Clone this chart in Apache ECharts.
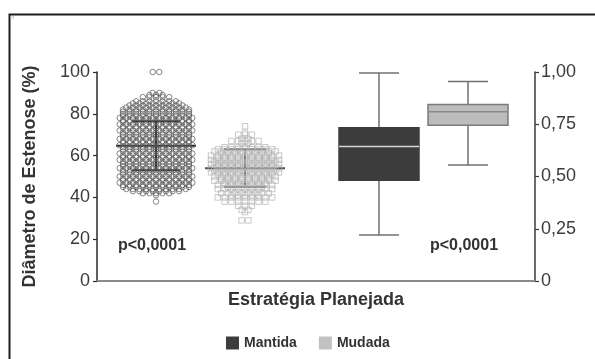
<!DOCTYPE html>
<html><head><meta charset="utf-8">
<script src="https://cdn.jsdelivr.net/npm/echarts@6/dist/echarts.min.js"></script>
<style>html,body{margin:0;padding:0;background:#fff}#c{width:595px;height:359px}</style>
</head><body><div id="c"></div>
<script>
// ---------- data ----------
const groups = ['Mantida', 'Mudada'];
const leftTicks = [0, 20, 40, 60, 80, 100];
const rightTickLabels = ['0', '0,25', '0,50', '0,75', '1,00'];

// Dot plot (left): value levels and number of patients at each level
const mantidaLevels = [100, 90, 89, 88, 86, 85, 84, 83, 82, 81, 80, 79, 78, 77, 76, 75, 74, 73, 72, 71, 70, 69, 68, 67, 66, 65, 64, 63, 62, 61, 60, 59, 58, 57, 56, 55, 54, 53, 52, 51, 50, 49, 48, 47, 46, 45, 44, 43, 42, 41, 38];
const mantidaCounts = [2, 2, 3, 5, 7, 8, 9, 10, 11, 11, 11, 11, 12, 11, 11, 12, 11, 11, 12, 11, 11, 11, 12, 11, 11, 12, 11, 11, 11, 12, 11, 11, 12, 11, 11, 11, 12, 11, 11, 11, 12, 11, 11, 12, 11, 11, 10, 8, 5, 1, 1];
const mudadaLevels = [74, 71, 70, 68, 67, 66, 64, 63, 62, 61, 60, 59, 58, 57, 56, 55, 54, 53, 52, 51, 50, 49, 48, 47, 46, 45, 44, 42, 41, 40, 38, 36, 34, 33, 29];
const mudadaCounts = [1, 1, 3, 2, 5, 2, 7, 9, 10, 8, 11, 9, 11, 10, 11, 9, 11, 10, 11, 9, 10, 8, 10, 7, 9, 6, 9, 8, 5, 9, 7, 3, 2, 1, 2];

// mean ± SD bars of the dot plot
const dotMean = [64.7, 54.0];
const dotSD = [11.7, 9.0];

// box plots (right axis, 0..1)
const boxMin = [0.22, 0.555];
const boxQ1 = [0.482, 0.745];
const boxMedian = [0.643, 0.81];
const boxQ3 = [0.733, 0.845];
const boxMax = [0.995, 0.955];

const pLabels = ['p<0,0001', 'p<0,0001'];

// ---------- layout (x axis in plot-pixel units) ----------
const dotCenters = [59, 148];
const boxCenters = [282, 371];
const dotSpacing = [6.6, 6.8];
const FONT = '"Liberation Sans", Arial, Helvetica, sans-serif';

function swarm(levels, counts, cx, sp) {
  const pts = [];
  levels.forEach((v, k) => {
    const n = counts[k];
    for (let i = 0; i < n; i++) pts.push([cx + (i - (n - 1) / 2) * sp, v]);
  });
  return pts;
}

const chart = echarts.init(document.getElementById('c'), null, {renderer: 'canvas'});

function boxRenderer(fill, stroke, med) {
  return function (params, api) {
    const cx = api.value(0);
    const pMin = api.coord([cx, api.value(1)]);
    const pQ1 = api.coord([cx, api.value(2)]);
    const pMed = api.coord([cx, api.value(3)]);
    const pQ3 = api.coord([cx, api.value(4)]);
    const pMax = api.coord([cx, api.value(5)]);
    const hw = api.size([40, 0])[0];
    const cw = api.size([20, 0])[0];
    const wStyle = {stroke: '#707070', lineWidth: 1.5};
    return {type: 'group', children: [
      {type: 'line', shape: {x1: pMin[0], y1: pMin[1], x2: pQ1[0], y2: pQ1[1]}, style: wStyle},
      {type: 'line', shape: {x1: pQ3[0], y1: pQ3[1], x2: pMax[0], y2: pMax[1]}, style: wStyle},
      {type: 'line', shape: {x1: pMin[0] - cw, y1: pMin[1], x2: pMin[0] + cw, y2: pMin[1]}, style: wStyle},
      {type: 'line', shape: {x1: pMax[0] - cw, y1: pMax[1], x2: pMax[0] + cw, y2: pMax[1]}, style: wStyle},
      {type: 'rect', shape: {x: pQ3[0] - hw, y: pQ3[1], width: 2 * hw, height: pQ1[1] - pQ3[1]}, style: {fill: fill, stroke: stroke, lineWidth: 1.5}},
      {type: 'line', shape: {x1: pMed[0] - hw, y1: pMed[1], x2: pMed[0] + hw, y2: pMed[1]}, style: {stroke: med, lineWidth: 1.5}}
    ]};
  };
}

function meanRenderer(params, api) {
  const cx = api.value(0), m = api.value(1), sd = api.value(2);
  const col = params.dataIndex === 0 ? '#2e2e2e' : '#505050';
  const pm = api.coord([cx, m]);
  const pt = api.coord([cx, m + sd]);
  const pb = api.coord([cx, m - sd]);
  const mw = api.size([40, 0])[0];
  const cw = api.size([params.dataIndex === 0 ? 24 : 21, 0])[0];
  const st = {stroke: col, lineWidth: 2};
  return {type: 'group', children: [
    {type: 'line', shape: {x1: pm[0] - mw, y1: pm[1], x2: pm[0] + mw, y2: pm[1]}, style: st},
    {type: 'line', shape: {x1: pt[0], y1: pt[1], x2: pb[0], y2: pb[1]}, style: st},
    {type: 'line', shape: {x1: pt[0] - cw, y1: pt[1], x2: pt[0] + cw, y2: pt[1]}, style: st},
    {type: 'line', shape: {x1: pb[0] - cw, y1: pb[1], x2: pb[0] + cw, y2: pb[1]}, style: st}
  ]};
}

const option = {
  animation: false,
  backgroundColor: '#fff',
  textStyle: {fontFamily: FONT},
  grid: {left: 97, right: 60, top: 72, bottom: 78, containLabel: false, outerBoundsMode: 'none'},
  legend: {
    data: [{name: groups[0], icon: 'rect'}, {name: groups[1], icon: 'rect'}],
    left: 221, top: 331, itemWidth: 13, itemHeight: 13, itemGap: 22,
    textStyle: {fontFamily: FONT, fontSize: 14, fontWeight: 'bold', color: '#333'},
    selectedMode: false
  },
  xAxis: {
    type: 'value', min: 0, max: 438,
    name: 'Estratégia Planejada', nameLocation: 'middle', nameGap: 10,
    nameTextStyle: {fontFamily: FONT, fontSize: 18, fontWeight: 'bold', color: '#333', verticalAlign: 'top'},
    axisLine: {show: true, onZero: false, lineStyle: {color: '#8a8a8a', width: 2}},
    axisTick: {show: false}, axisLabel: {show: false}, splitLine: {show: false}
  },
  yAxis: [{
    type: 'value', min: 0, max: 100, interval: 20, position: 'left',
    name: 'Diâmetro de Estenose (%)', nameLocation: 'middle', nameGap: 58, nameRotate: 90,
    nameTextStyle: {fontFamily: FONT, fontSize: 18, fontWeight: 'bold', color: '#333'},
    axisLine: {show: true, lineStyle: {color: '#2a2a2a', width: 1.5}},
    axisTick: {show: true, length: 4, lineStyle: {color: '#2a2a2a', width: 1.2}},
    axisLabel: {fontFamily: FONT, fontSize: 18, color: '#3c3c3c', margin: 7,
      formatter: v => String(leftTicks[leftTicks.indexOf(v)])},
    splitLine: {show: false}
  }, {
    type: 'value', min: 0, max: 1, interval: 0.25, position: 'right',
    axisLine: {show: true, lineStyle: {color: '#3a3a3a', width: 1.5}},
    axisTick: {show: true, length: 4, lineStyle: {color: '#3a3a3a', width: 1.2}},
    axisLabel: {fontFamily: FONT, fontSize: 18, color: '#3c3c3c', margin: 6,
      formatter: v => rightTickLabels[Math.round(v / 0.25)]},
    splitLine: {show: false}
  }],
  series: [
    {type: 'scatter', name: 'mantidaDots', yAxisIndex: 0, symbol: 'circle', symbolSize: 5.5,
      itemStyle: {color: 'rgba(0,0,0,0)', borderColor: '#585858', borderWidth: 0.9},
      emphasis: {disabled: true}, silent: true,
      data: swarm(mantidaLevels, mantidaCounts, dotCenters[0], dotSpacing[0])},
    {type: 'scatter', name: 'mudadaDots', yAxisIndex: 0, symbol: 'rect', symbolSize: 5.5,
      itemStyle: {color: 'rgba(0,0,0,0)', borderColor: '#b3b3b3', borderWidth: 0.9},
      emphasis: {disabled: true}, silent: true,
      data: swarm(mudadaLevels, mudadaCounts, dotCenters[1], dotSpacing[1])},
    {type: 'custom', name: 'meanSD', yAxisIndex: 0, renderItem: meanRenderer, silent: true,
      data: dotCenters.map((c, i) => [c, dotMean[i], dotSD[i]])},
    {type: 'custom', name: groups[0], yAxisIndex: 1, silent: true,
      itemStyle: {color: '#3c3c3c'},
      renderItem: boxRenderer('#3c3c3c', '#3c3c3c', '#d6d6d6'),
      data: [[boxCenters[0], boxMin[0], boxQ1[0], boxMedian[0], boxQ3[0], boxMax[0]]]},
    {type: 'custom', name: groups[1], yAxisIndex: 1, silent: true,
      itemStyle: {color: '#c2c2c2'},
      renderItem: boxRenderer('#bcbcbc', '#7a7a7a', '#8a8a8a'),
      data: [[boxCenters[1], boxMin[1], boxQ1[1], boxMedian[1], boxQ3[1], boxMax[1]]]}
  ],
  graphic: [
    {type: 'rect', left: 7, top: 12, shape: {width: 600, height: 360}, style: {fill: 'none', stroke: '#1e1e1e', lineWidth: 2}, silent: true},
    {type: 'text', left: 10, top: 15, style: {text: 'm', fontSize: 5, fill: '#aaa', fontFamily: FONT}},
    {type: 'text', left: 118, top: 238, style: {text: pLabels[0], fontFamily: FONT, fontSize: 16, fontWeight: 'bold', fill: '#333'}},
    {type: 'text', left: 430, top: 238, style: {text: pLabels[1], fontFamily: FONT, fontSize: 16, fontWeight: 'bold', fill: '#333'}}
  ]
};
chart.setOption(option);
</script>
</body></html>
